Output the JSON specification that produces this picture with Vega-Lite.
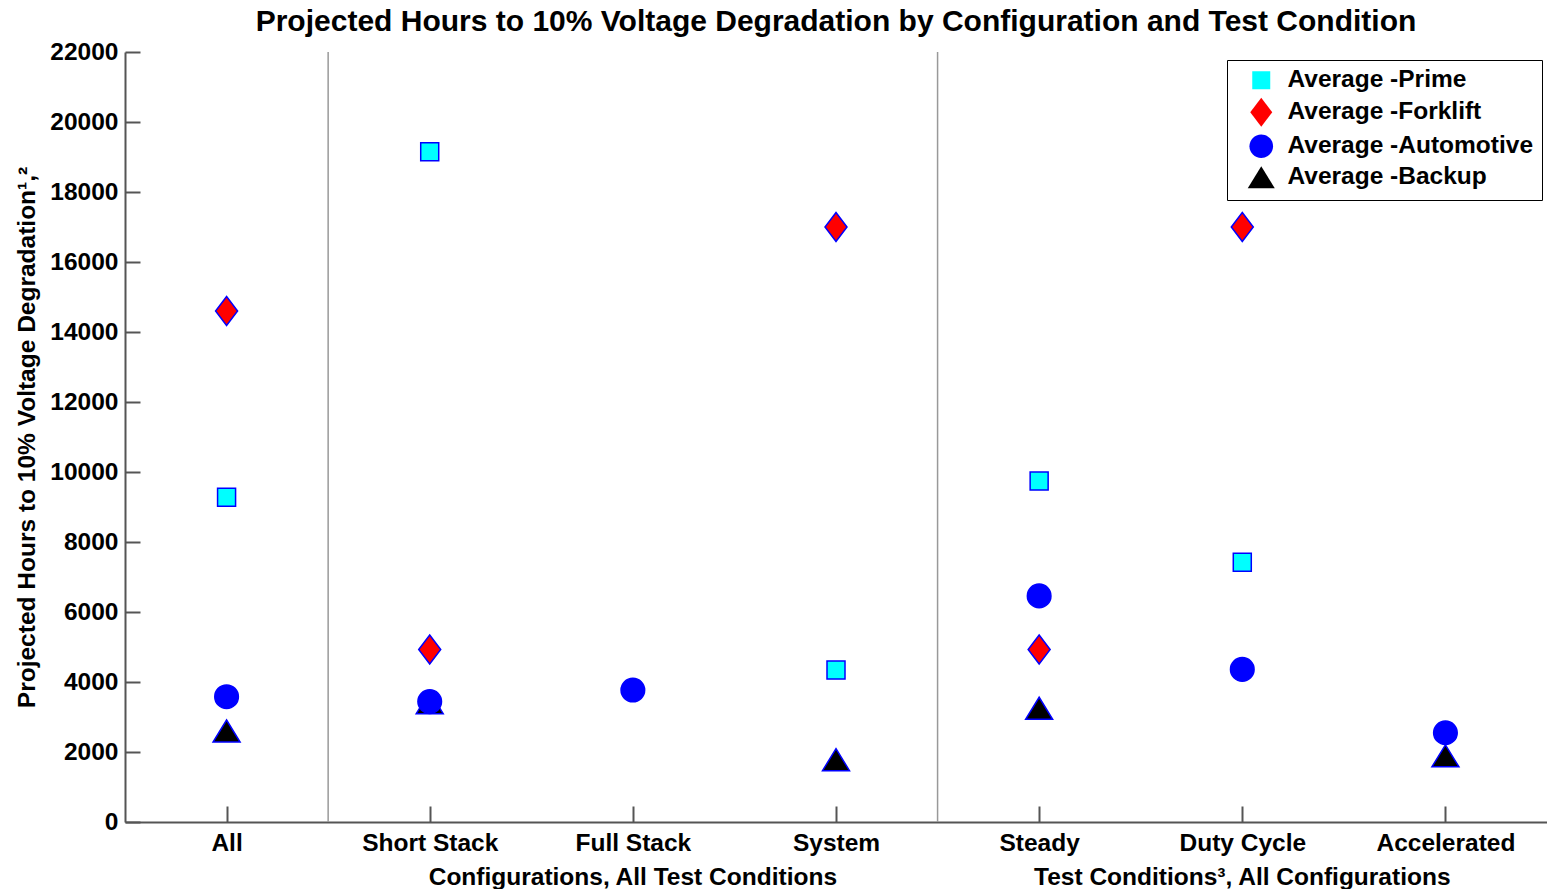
{
  "$schema": "https://vega.github.io/schema/vega-lite/v6.json",
  "autosize": "none",
  "width": 1422,
  "height": 770,
  "padding": {"left": 125, "top": 52, "right": 0, "bottom": 67},
  "background": "white",
  "config": {
    "view": {"stroke": null},
    "font": "Liberation Sans",
    "axis": {
      "labelFont": "Liberation Sans",
      "labelFontWeight": "bold",
      "labelFontSize": 24.5,
      "labelColor": "black",
      "titleFont": "Liberation Sans",
      "titleFontWeight": "bold",
      "titleFontSize": 24.5,
      "titleColor": "black",
      "domainColor": "#555555",
      "domainWidth": 2,
      "tickColor": "#555555",
      "tickWidth": 2,
      "grid": false
    }
  },
  "title": {
    "text": "Projected Hours to 10% Voltage Degradation by Configuration and Test Condition",
    "font": "Liberation Sans",
    "fontSize": 30,
    "fontWeight": "bold",
    "color": "black",
    "anchor": "middle",
    "offset": 2
  },
  "layer": [
    {
      "data": {"values": [{"sep": 1.5}, {"sep": 4.5}]},
      "mark": {"type": "rule", "color": "#999999", "strokeWidth": 1.5},
      "encoding": {
        "x": {"field": "sep", "type": "quantitative", "scale": {"domain": [0.5, 7.5], "nice": false, "zero": false}}
      }
    },
    {
      "data": {
        "values": [
          {"cat": 1, "series": "Average -Prime", "hours": 9280},
          {"cat": 1, "series": "Average -Forklift", "hours": 14600},
          {"cat": 1, "series": "Average -Backup", "hours": 2600},
          {"cat": 1, "series": "Average -Automotive", "hours": 3580},
          {"cat": 2, "series": "Average -Prime", "hours": 19150},
          {"cat": 2, "series": "Average -Forklift", "hours": 4930},
          {"cat": 2, "series": "Average -Backup", "hours": 3410},
          {"cat": 2, "series": "Average -Automotive", "hours": 3440},
          {"cat": 3, "series": "Average -Automotive", "hours": 3770},
          {"cat": 4, "series": "Average -Prime", "hours": 4340},
          {"cat": 4, "series": "Average -Forklift", "hours": 17000},
          {"cat": 4, "series": "Average -Backup", "hours": 1780},
          {"cat": 5, "series": "Average -Prime", "hours": 9740},
          {"cat": 5, "series": "Average -Forklift", "hours": 4930},
          {"cat": 5, "series": "Average -Automotive", "hours": 6460},
          {"cat": 5, "series": "Average -Backup", "hours": 3250},
          {"cat": 6, "series": "Average -Prime", "hours": 7420},
          {"cat": 6, "series": "Average -Forklift", "hours": 17000},
          {"cat": 6, "series": "Average -Automotive", "hours": 4360},
          {"cat": 7, "series": "Average -Automotive", "hours": 2550},
          {"cat": 7, "series": "Average -Backup", "hours": 1890}
        ]
      },
      "mark": {"type": "point", "filled": true, "size": 400, "opacity": 1, "stroke": "#0000FF", "strokeWidth": 1.5},
      "encoding": {
        "x": {
          "field": "cat",
          "type": "quantitative",
          "scale": {"domain": [0.5, 7.5], "nice": false, "zero": false},
          "axis": {
            "title": null,
            "values": [1, 2, 3, 4, 5, 6, 7],
            "labelExpr": "['All','Short Stack','Full Stack','System','Steady','Duty Cycle','Accelerated'][datum.value - 1]",
            "tickSize": -16,
            "labelPadding": 25,
            "labelFlush": false,
            "labelOverlap": false
          }
        },
        "y": {
          "field": "hours",
          "type": "quantitative",
          "scale": {"domain": [0, 22000], "nice": false},
          "axis": {
            "title": "Projected Hours to 10% Voltage Degradation¹,²",
            "values": [0, 2000, 4000, 6000, 8000, 10000, 12000, 14000, 16000, 18000, 20000, 22000],
            "format": "d",
            "tickSize": -15,
            "labelPadding": 22,
            "titlePadding": 10,
            "labelFlush": false,
            "labelOverlap": false
          }
        },
        "shape": {
          "field": "series",
          "type": "nominal",
          "scale": {
            "domain": ["Average -Prime", "Average -Forklift", "Average -Automotive", "Average -Backup"],
            "range": [
              "M-0.9,-0.9H0.9V0.9H-0.9Z",
              "M0,-1.45L1.1,0L0,1.45L-1.1,0Z",
              "M-1.18,0A1.18,1.18,0,1,0,1.18,0A1.18,1.18,0,1,0,-1.18,0Z",
              "M0,-1.1L1.35,1.1L-1.35,1.1Z"
            ]
          },
          "legend": {
            "title": null,
            "orient": "none",
            "legendX": 1102,
            "legendY": 8,
            "strokeColor": "black",
            "fillColor": "white",
            "padding": 8,
            "symbolOffset": 14,
            "symbolSize": 400,
            "symbolStrokeColor": "#0000FF",
            "symbolStrokeWidth": 1.5,
            "labelFont": "Liberation Sans",
            "labelFontWeight": "bold",
            "labelFontSize": 24.5,
            "labelColor": "black",
            "labelOffset": 14,
            "rowPadding": 1,
            "labelLimit": 400,
            "encode": {"symbols": {"update": {"stroke": {"value": "#0000FF"}, "strokeWidth": {"value": 1.5}}}}
          }
        },
        "fill": {
          "field": "series",
          "type": "nominal",
          "scale": {
            "domain": ["Average -Prime", "Average -Forklift", "Average -Automotive", "Average -Backup"],
            "range": ["#00FFFF", "#FF0000", "#0000FF", "#000000"]
          },
          "legend": {
            "title": null,
            "orient": "none",
            "legendX": 1102,
            "legendY": 8,
            "strokeColor": "black",
            "fillColor": "white",
            "padding": 8,
            "symbolOffset": 14,
            "symbolSize": 400,
            "symbolStrokeColor": "#0000FF",
            "symbolStrokeWidth": 1.5,
            "labelFont": "Liberation Sans",
            "labelFontWeight": "bold",
            "labelFontSize": 24.5,
            "labelColor": "black",
            "labelOffset": 14,
            "rowPadding": 1,
            "labelLimit": 400,
            "encode": {"symbols": {"update": {"stroke": {"value": "#0000FF"}, "strokeWidth": {"value": 1.5}}}}
          }
        }
      }
    },
    {
      "data": {
        "values": [
          {"pos": 3, "label": "Configurations, All Test Conditions"},
          {"pos": 6, "label": "Test Conditions³, All Configurations"}
        ]
      },
      "mark": {"type": "text", "font": "Liberation Sans", "fontWeight": "bold", "fontSize": 24.5, "color": "black", "baseline": "alphabetic", "align": "center"},
      "encoding": {
        "x": {"field": "pos", "type": "quantitative", "scale": {"domain": [0.5, 7.5], "nice": false, "zero": false}},
        "y": {"value": 833},
        "text": {"field": "label", "type": "nominal"}
      }
    }
  ]
}
